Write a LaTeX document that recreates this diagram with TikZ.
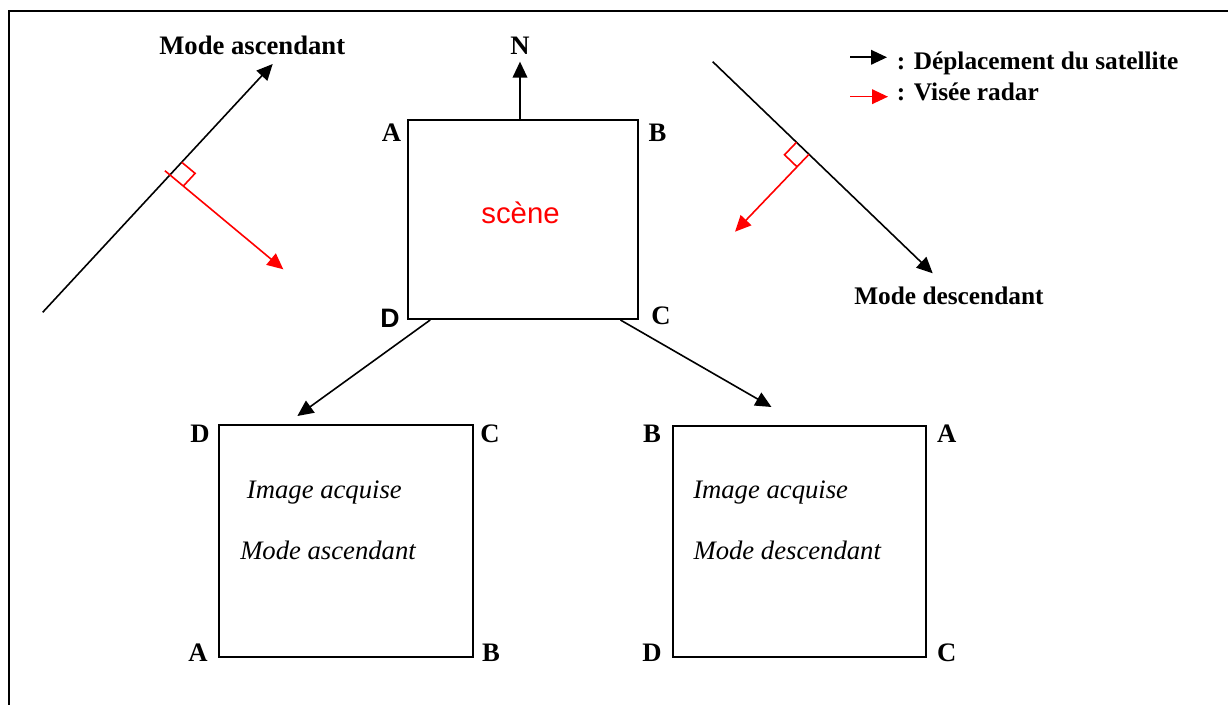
\documentclass[tikz,border=0pt]{standalone}
\usepackage{fontspec}
\setmainfont{Liberation Serif}
\newfontfamily\arialfont{Liberation Sans}
\usetikzlibrary{arrows.meta,calc,positioning}

\begin{document}
\begin{tikzpicture}[x=0.75pt, y=-0.75pt,
  every node/.style={inner sep=0pt},
  lbl/.style={font=\fontsize{20}{24}\selectfont\bfseries},
  smlbl/.style={font=\fontsize{19}{23}\selectfont\bfseries, anchor=base west},
  itl/.style={font=\fontsize{20}{24}\selectfont\itshape, anchor=base west},
  box/.style={draw, line width=1.5pt},
  move/.style={line width=1.2pt, -{Triangle[length=12pt,width=11pt]}},
  radar/.style={red, line width=1.2pt},
  ray/.style={radar, -{Triangle[length=12pt,width=11pt]}}]
  \useasboundingbox (0,0) rectangle (1228,705);
  % Frame
  \draw[line width=2pt] (9,705) -- (9,11) -- (1228,11);

  % Scene and acquired images
  \node[box, minimum width=172.5pt, minimum height=149.25pt] (scene) at (523,219.5) {};
  \node[box, minimum width=190.5pt, minimum height=174pt] (asc) at (346,541) {};
  \node[box, minimum width=189.75pt, minimum height=173.25pt] (desc) at (799.5,541.5) {};
  \node[font=\arialfont\fontsize{22}{26}\selectfont, text=red] (sceneTxt) at (520.5,213) {scène};

  % Corner labels
  \node[lbl] (sA) at (391.5,133) {A};
  \node[lbl] (sB) at (657.5,133) {B};
  \node[lbl] (sC) at (661,316) {C};
  \node[font=\arialfont\fontsize{20}{24}\selectfont\bfseries] (sD) at (390,318) {D};
  \node[lbl] (aD) at (200,433.5) {D};
  \node[lbl] (aC) at (490,433.5) {C};
  \node[lbl] (aA) at (198,653) {A};
  \node[lbl] (aB) at (491,653) {B};
  \node[lbl] (dB) at (652,434) {B};
  \node[lbl] (dA) at (946.7,434) {A};
  \node[lbl] (dD) at (652,653) {D};
  \node[lbl] (dC) at (946.7,653) {C};

  % Texts in the images
  \node[itl] (ascImg) at (246.7,498.3) {Image acquise};
  \node[itl] (ascMode) at (240,560) {Mode ascendant};
  \node[itl] (desImg) at (693,498.3) {Image acquise};
  \node[itl] (desMode) at (693.3,560) {Mode descendant};

  % North
  \node[lbl] (north) at (520,46) {N};
  \draw[move] (scene.north -| north) -- ([yshift=-5pt]north.south);

  % Scene to images
  \draw[move] ($(scene.south west)!0.1!(scene.south east)$) -- ($(asc.north west)!0.31!(asc.north east)+(0,-8)$);
  \draw[move] ($(scene.south west)!0.92!(scene.south east)$) -- ($(desc.north west)!0.39!(desc.north east)+(0,-18)$);

  % Ascending pass
  \coordinate (ascS) at (42.7,312.3);
  \coordinate (ascE) at (272.7,64);
  \coordinate (ascF) at (170,175);
  \coordinate (ascR) at (283.3,269.3);
  \draw[move] (ascS) -- (ascE);
  \draw[ray] ($(ascF)!-5pt!(ascR)$) -- (ascR);
  \coordinate (ascQ1) at ($(ascF)!13pt!(ascE)$);
  \coordinate (ascQ2) at ($(ascF)!13pt!(ascR)$);
  \draw[radar] (ascQ1) -- ($(ascQ1)+(ascQ2)-(ascF)$) -- (ascQ2);
  \node[lbl, anchor=base west] (ascLbl) at (159,54.3) {Mode ascendant};

  % Descending pass
  \coordinate (desS) at (712.7,61.7);
  \coordinate (desE) at (932.7,273.3);
  \coordinate (desF) at (809,154.3);
  \coordinate (desR) at (735,231.7);
  \draw[move] (desS) -- (desE);
  \draw[ray] (desF) -- (desR);
  \coordinate (desQ1) at ($(desF)!13pt!(desS)$);
  \coordinate (desQ2) at ($(desF)!13pt!(desR)$);
  \draw[radar] (desQ1) -- ($(desQ1)+(desQ2)-(desF)$) -- (desQ2);
  \node[smlbl] (desLbl) at (854,305) {Mode descendant};

  % Legend
  \coordinate (lgMoveS) at (850,57.3);
  \coordinate (lgMoveE) at (887,57.3);
  \coordinate (lgRadarS) at (850,96.7);
  \coordinate (lgRadarE) at (888,96.7);
  \draw[move] (lgMoveS) -- (lgMoveE);
  \draw[ray] (lgRadarS) -- (lgRadarE);
  \node[smlbl] (lgMove) at (896.7,70) {: Déplacement du satellite};
  \node[smlbl] (lgRadar) at (896.7,101) {: Visée radar};
\end{tikzpicture}
\end{document}
